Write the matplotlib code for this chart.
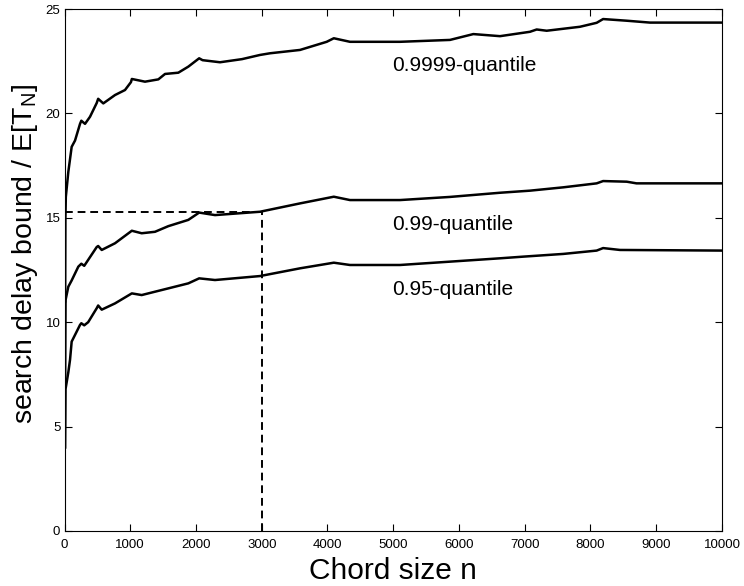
import matplotlib
matplotlib.use('Agg')
import matplotlib.pyplot as plt

plt.rcParams['font.family'] = ['Liberation Sans', 'DejaVu Sans']

# 0.9999-quantile
n_9999 = [10, 14, 20, 58, 109, 160, 236, 256, 312, 388, 490, 512, 590, 768, 920,
          1011, 1024, 1224, 1427, 1529, 1731, 1883, 2048, 2100, 2365, 2700, 2973,
          3125, 3582, 3988, 4096, 4342, 5103, 5863, 6218, 6624, 7080, 7182, 7334,
          7840, 8094, 8192, 8551, 8905, 10000]
q_9999 = [11.0, 15.0, 16.0, 17.2, 18.4, 18.7, 19.5, 19.65, 19.5, 19.84, 20.5,
          20.7, 20.48, 20.88, 21.12, 21.5, 21.65, 21.52, 21.63, 21.89, 21.95,
          22.24, 22.64, 22.55, 22.45, 22.6, 22.8, 22.88, 23.04, 23.43, 23.6, 23.43,
          23.43, 23.52, 23.8, 23.7, 23.91, 24.02, 23.96, 24.15, 24.34, 24.52,
          24.44, 24.35, 24.35]

# 0.99-quantile
n_99 = [10, 16, 58, 109, 210, 256, 300, 490, 512, 566, 768, 1024, 1174, 1376, 1579,
        1883, 2048, 2289, 2973, 3582, 4096, 4342, 5103, 5863, 6624, 7080, 7587,
        8094, 8192, 8551, 8700, 10000]
q_99 = [7.0, 11.06, 11.7, 12.0, 12.66, 12.8, 12.7, 13.6, 13.65, 13.46, 13.78,
        14.38, 14.26, 14.33, 14.6, 14.9, 15.25, 15.13, 15.29, 15.69, 16.01, 15.85,
        15.85, 16.0, 16.2, 16.3, 16.46, 16.65, 16.76, 16.73, 16.65, 16.65]

# 0.95-quantile
n_95 = [10, 16, 58, 84, 109, 236, 256, 300, 360, 490, 512, 566, 768, 1024, 1174,
        1376, 1579, 1883, 2048, 2289, 2973, 3582, 4096, 4342, 5103, 5863, 6624,
        6978, 7587, 8094, 8192, 8449, 10000]
q_95 = [4.0, 6.8, 7.6, 8.2, 9.07, 9.87, 9.95, 9.85, 10.0, 10.67, 10.8, 10.6, 10.9,
        11.38, 11.3, 11.46, 11.62, 11.86, 12.1, 12.02, 12.21, 12.58, 12.85, 12.74,
        12.74, 12.9, 13.06, 13.14, 13.27, 13.43, 13.55, 13.46, 13.43]

labels = ['0.9999-quantile', '0.99-quantile', '0.95-quantile']
label_y = [22.3, 14.7, 11.55]

chord_n = 3000
bound = 15.27

fig = plt.figure(figsize=(7.44, 5.86), dpi=100)
ax = fig.add_axes([0.0867, 0.0939, 0.8837, 0.8907])

for n, q in [(n_9999, q_9999), (n_99, q_99), (n_95, q_95)]:
    ax.plot(n, q, color='black', lw=1.8)

ax.plot([0, chord_n], [bound, bound], color='black', lw=1.4, ls=(0, (4, 2.5)))
ax.plot([chord_n, chord_n], [0, bound], color='black', lw=1.4, ls=(0, (4, 2.5)))

for lab, y in zip(labels, label_y):
    ax.text(4980, y, lab, fontsize=15, va='center', ha='left')

ax.set_xlim(0, 10000)
ax.set_ylim(0, 25)
ax.set_xticks(range(0, 10001, 1000))
ax.set_yticks(range(0, 26, 5))
ax.tick_params(direction='in', top=True, right=True, length=5, width=0.8,
               labelsize=9.5)
ax.tick_params(axis='x', pad=6)
ax.tick_params(axis='y', pad=3)
for s in ax.spines.values():
    s.set_linewidth(0.8)

ax.set_xlabel('Chord size n', fontsize=21.5, labelpad=4)
ax.set_ylabel('search delay bound / E[T$_\\mathregular{N}$]', fontsize=20.5)
ax.yaxis.set_label_coords(-0.038, 0.53)

fig.savefig('out.png', dpi=100)
